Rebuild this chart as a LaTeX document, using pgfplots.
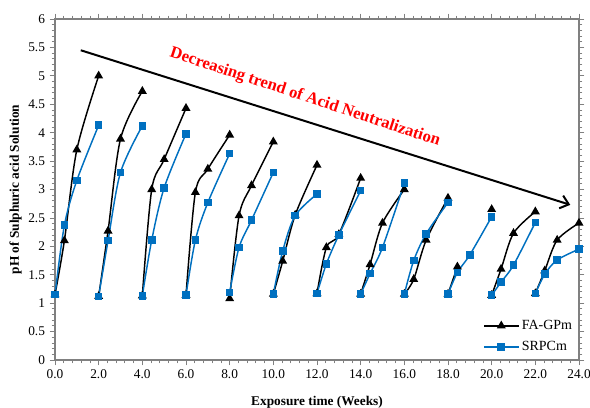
\documentclass[border=0pt]{standalone}
\usepackage{fontspec}
\setmainfont{Liberation Serif}
\usepackage{pgfplots}
\pgfplotsset{compat=1.18}
\usetikzlibrary{arrows.meta,calc}
\definecolor{srblue}{RGB}{0,112,192}
\definecolor{axgray}{RGB}{128,128,128}

\begin{document}
\begin{tikzpicture}
\begin{axis}[
    name=ax,
    scale only axis,
    width=393pt,
    height=255.75pt,
    xmin=0, xmax=24,
    ymin=0, ymax=6,
    xtick={0,2,...,24},
    ytick={0,0.5,...,6},
    minor x tick num=4,
    minor y tick num=4,
    tick align=outside,
    major tick length=4pt,
    minor tick length=2.5pt,
    tick style={axgray, line width=0.6pt},
    axis line style={axgray, line width=0.8pt},
    xticklabel style={/pgf/number format/fixed, /pgf/number format/fixed zerofill, /pgf/number format/precision=1},
    /pgf/number format/assume math mode=true,
    ticklabel style={font=\fontsize{10}{12}\selectfont},
    xlabel={\textbf{Exposure time (Weeks)}},
    ylabel={\textbf{pH of Sulphuric acid Solution}},
    label style={font=\fontsize{10}{12}\selectfont},
    xlabel style={yshift=-6pt},
    ylabel style={yshift=-2pt},
    unbounded coords=jump,
    legend style={draw=none, fill=none, at={(1,0.005)}, anchor=south east,
        font=\fontsize{10.5}{12}\selectfont, row sep=3.5pt},
    legend cell align=left,
    legend image code/.code={\draw[mark repeat=2,mark phase=2,#1] plot coordinates {(0cm,0cm) (0.45cm,0cm) (0.9cm,0cm)};},
]
\addplot[black, line width=1.1pt, smooth, tension=0.5, mark=triangle*, mark size=2.8pt, mark options={solid}] coordinates {
(0,1.15) (0.43,2.10) (1,3.70) (2,5.00) (2,nan)
(2,1.12) (2.43,2.27) (3,3.89) (4,4.73) (4,nan)
(4,1.13) (4.43,3.00) (5,3.53) (6,4.43) (6,nan)
(6,1.14) (6.43,2.95) (7,3.36) (8,3.96) (8,nan)
(8,1.08) (8.43,2.54) (9,3.07) (10,3.84) (10,nan)
(10,1.16) (10.43,1.74) (11,2.55) (12,3.43) (12,nan)
(12,1.17) (12.43,1.98) (13,2.21) (14,3.20) (14,nan)
(14,1.16) (14.43,1.68) (15,2.41) (16,3.00) (16,nan)
(16,1.16) (16.43,1.42) (17,2.11) (18,2.85) (18,nan)
(18,1.16) (18.43,1.64) (19,nan) (20,2.65) (20,nan)
(20,1.14) (20.43,1.60) (21,2.23) (22,2.61) (22,nan)
(22,1.17) (22.43,1.57) (23,2.11) (24,2.41)
};
\addplot[srblue, line width=1.1pt, smooth, tension=0.5, mark=square*, mark size=2.3pt, mark options={solid}] coordinates {
(0,1.15) (0.43,2.37) (1,3.16) (2,4.13) (2,nan)
(2,1.12) (2.43,2.10) (3,3.30) (4,4.12) (4,nan)
(4,1.13) (4.43,2.11) (5,3.03) (6,3.98) (6,nan)
(6,1.14) (6.43,2.11) (7,2.77) (8,3.63) (8,nan)
(8,1.19) (8.43,1.98) (9,2.46) (10,3.30) (10,nan)
(10,1.16) (10.43,1.92) (11,2.54) (12,2.92) (12,nan)
(12,1.17) (12.43,1.69) (13,2.20) (14,2.98) (14,nan)
(14,1.16) (14.43,1.52) (15,1.98) (16,3.11) (16,nan)
(16,1.16) (16.43,1.75) (17,2.22) (18,2.77) (18,nan)
(18,1.16) (18.43,1.54) (19,1.85) (20,2.52) (20,nan)
(20,1.14) (20.43,1.37) (21,1.67) (22,2.42) (22,nan)
(22,1.17) (22.43,1.51) (23,1.76) (24,1.95)
};
\legend{FA-GPm,SRPCm}
% trend annotation
\draw[black, line width=1.5pt, -{Straight Barb[length=6pt,width=10pt,line width=1.5pt]}] (axis cs:1.18,5.45) -- (axis cs:23.6,2.73);
\node[rotate=-18.3, text=red, font=\fontsize{12.5}{14}\selectfont\bfseries] at (axis cs:11.45,4.62) {Decreasing trend of Acid Neutralization};
\end{axis}
\pgfresetboundingbox
\path ($(ax.south west)+(-41.25pt,-36pt)$) rectangle ($(ax.north east)+(8.25pt,14.25pt)$);
\end{tikzpicture}
\end{document}
